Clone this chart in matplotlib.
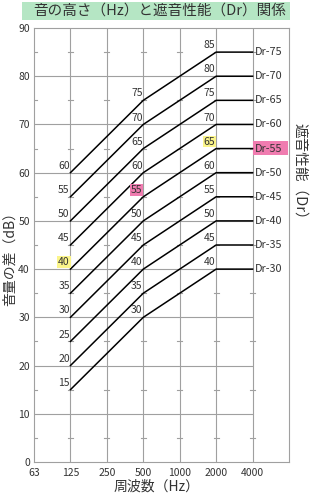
import matplotlib.pyplot as plt
from matplotlib.patches import Rectangle

plt.rcParams['font.family'] = ['Noto Sans CJK JP', 'DejaVu Sans']

freq_labels = ['63', '125', '250', '500', '1000', '2000', '4000']
dr_names = ['Dr-30', 'Dr-35', 'Dr-40', 'Dr-45', 'Dr-50',
            'Dr-55', 'Dr-60', 'Dr-65', 'Dr-70', 'Dr-75']
level_125 = [15, 20, 25, 30, 35, 40, 45, 50, 55, 60]
level_500 = [30, 35, 40, 45, 50, 55, 60, 65, 70, 75]
level_2000 = [40, 45, 50, 55, 60, 65, 70, 75, 80, 85]
level_4000 = [40, 45, 50, 55, 60, 65, 70, 75, 80, 85]
y_ticks = [0, 10, 20, 30, 40, 50, 60, 70, 80, 90]

# which labels get a coloured marker box
yellow_125 = 40
pink_500 = 55
yellow_2000 = 65
pink_dr = 'Dr-55'

TXT = '#333333'
GRID = '#a0a0a0'
YELLOW = '#fbf58a'
PINK = '#f07cb0'

W, H = 310, 495
fig = plt.figure(figsize=(W / 100, H / 100), dpi=100)
ax = fig.add_axes([34 / W, 1 - 462 / H, 255 / W, 434 / H])

nx = len(freq_labels)
xs = list(range(nx))
ax.set_xlim(0, nx)
ax.set_ylim(0, 90)

# grid
for x in xs[1:]:
    ax.axvline(x, color=GRID, lw=0.8, zorder=1)
ax.hlines(y_ticks[1:-1], 0, nx - 1, color=GRID, lw=0.8, zorder=1)
for y in range(5, 90, 10):
    for x in xs:
        ax.plot([max(x - 0.07, 0), x + 0.07], [y, y], color=GRID, lw=0.8, zorder=1)

for s in ax.spines.values():
    s.set_color(GRID)
    s.set_linewidth(0.8)

ax.set_xticks(xs)
ax.set_xticklabels(freq_labels)
ax.set_yticks(y_ticks)
ax.tick_params(length=0, labelsize=7.5, colors=TXT, pad=3)
ax.tick_params(axis='x', pad=4)

# Dr curves
fx = [1, 3, 5, 6]
for i, name in enumerate(dr_names):
    ys = [level_125[i], level_500[i], level_2000[i], level_4000[i]]
    ax.plot(fx, ys, color='black', lw=1.1, zorder=3)
    for x, v, hl in [(1, level_125[i], yellow_125),
                     (3, level_500[i], pink_500),
                     (5, level_2000[i], yellow_2000)]:
        bb = None
        if v == hl:
            bb = dict(boxstyle='square,pad=0.08', fc=YELLOW if x != 3 else PINK, ec='none')
        ax.text(x - 0.02, v + 0.4, str(v), ha='right', va='bottom',
                fontsize=7.5, color=TXT, bbox=bb, zorder=4)
    if name == pink_dr:
        ax.add_patch(Rectangle((nx - 1, level_4000[i] - 1.4), 0.97, 3.0,
                               fc=PINK, ec='none', zorder=2))
    ax.text(nx - 1 + 0.05, level_4000[i], name, ha='left', va='center',
            fontsize=7.8, color=TXT, zorder=4)

# title bar
fig.patches.append(Rectangle((22 / W, 1 - 20 / H), 268 / W, 18 / H,
                             transform=fig.transFigure, fc='#b5e6c4', ec='none'))
fig.text(160 / W, 1 - 11 / H, '音の高さ（Hz）と遮音性能（Dr）関係',
         ha='center', va='center', fontsize=10.5, color=TXT)

fig.text(10 / W, 1 - 256 / H, '音量の差（dB）', rotation=90,
         ha='center', va='center', fontsize=10, color=TXT)
fig.text(300 / W, 1 - 175 / H, '遮音性能（Dr）', rotation=-90,
         ha='center', va='center', fontsize=10.5, color=TXT)
fig.text(157 / W, 1 - 487 / H, '周波数（Hz）',
         ha='center', va='center', fontsize=10, color=TXT)

fig.savefig('out.png', dpi=100)
